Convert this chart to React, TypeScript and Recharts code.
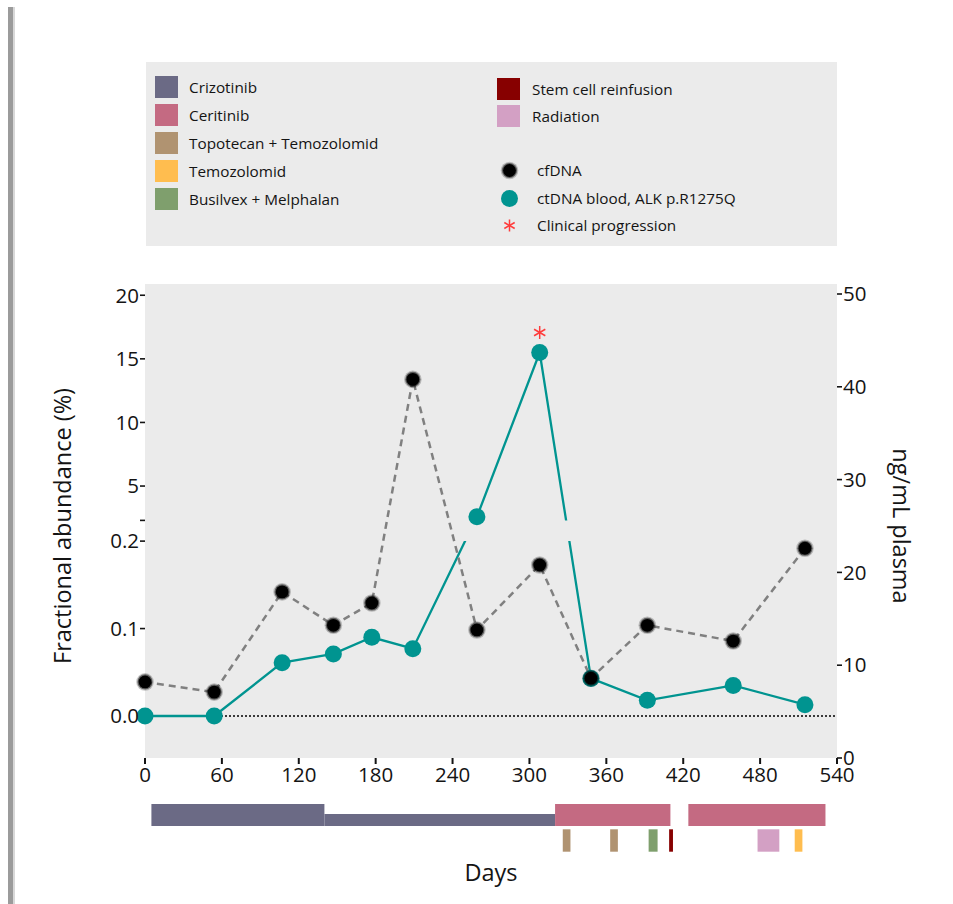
import React from "react";
import {
  CartesianGrid, ComposedChart, Label, Line, ReferenceArea, ReferenceDot, ReferenceLine, XAxis, YAxis,
} from "recharts";

const FONT = "'Open Sans', 'Noto Sans', sans-serif";
const INK = "#141414";
const PANEL = "#ebebeb";
const TEAL = "#009490";

// sampling days, shared by both series
const DAYS = [0, 54, 107, 147, 177, 209, 259, 308, 348, 392, 459, 515];
// total cell-free DNA, ng/mL plasma (right axis)
const CFDNA = [8.2, 7.1, 17.9, 14.3, 16.7, 40.8, 13.8, 20.8, 8.6, 14.3, 12.6, 22.6];
// ALK p.R1275Q fractional abundance in blood, % (left axis)
const CTDNA = [0, 0, 0.061, 0.071, 0.09, 0.077, 2.58, 15.5, 0.043, 0.018, 0.035, 0.013];
const PROGRESSION_DAYS = [308];

const DAY_TICKS = [0, 60, 120, 180, 240, 300, 360, 420, 480, 540];
const PCT_TICKS = [0, 0.1, 0.2, 5, 10, 15, 20];
const NG_TICKS = [0, 10, 20, 30, 40, 50];

const TREATMENTS = [
  "Crizotinib", "Ceritinib", "Topotecan + Temozolomid", "Temozolomid",
  "Busilvex + Melphalan", "Stem cell reinfusion", "Radiation",
];

type Track = "full" | "reduced" | "short";
// [treatment, from day, to day, track]
const PERIODS: [string, number, number, Track][] = [
  ["Crizotinib", 5, 140, "full"],
  ["Crizotinib", 140, 320, "reduced"],
  ["Ceritinib", 320, 410, "full"],
  ["Ceritinib", 424, 531, "full"],
  ["Topotecan + Temozolomid", 326, 332, "short"],
  ["Topotecan + Temozolomid", 363, 369, "short"],
  ["Busilvex + Melphalan", 393, 400, "short"],
  ["Stem cell reinfusion", 409, 412, "short"],
  ["Radiation", 478, 495, "short"],
  ["Temozolomid", 507, 513, "short"],
];

const TREATMENT_COLORS: Record<string, string> = {
  Crizotinib: "#6b6a85",
  Ceritinib: "#c46a82",
  "Topotecan + Temozolomid": "#b09371",
  Temozolomid: "#ffbd4f",
  "Busilvex + Melphalan": "#7f9f6d",
  "Stem cell reinfusion": "#870000",
  Radiation: "#d3a0c4",
};

// vertical extent of each track in the timeline strip (0 = top)
const TRACK_Y: Record<Track, [number, number]> = {
  full: [6, 28],
  reduced: [16, 28],
  short: [31.3, 53.7],
};

// Left axis is broken: 0–0.2 % below the gap, 2.3–20 % above it
const LOW_TOP = 0.2;
const HIGH_BOTTOM = 2.3;
const GAP = 0.0237;
const HIGH_SLOPE = 0.014545;
const toAxis = (v: number) => (v <= LOW_TOP ? v : LOW_TOP + GAP + (v - HIGH_BOTTOM) * HIGH_SLOPE);
const PCT_DOMAIN: [number, number] = [-0.048, 0.494];

const pctLabel = (u: number) => {
  const t = PCT_TICKS.find((p) => Math.abs(toAxis(p) - u) < 1e-9);
  if (t === undefined) return "";
  return t < 1 ? t.toFixed(1) : String(t);
};

const rows = DAYS.map((day, i) => ({ day, cf: CFDNA[i], ct: toAxis(CTDNA[i]) }));

const W = 953;
const H = 800;
const MARGIN = { top: 284, right: 16, bottom: 12, left: 45 };
// same plot box for the underlay chart, whose axes are hidden
const PLOT_MARGIN = { top: 284, right: 116, bottom: 42, left: 145 };

function Asterisk({ cx, cy, r = 6.5, color = "#ff3b3b" }: { cx: number; cy: number; r?: number; color?: string }) {
  const arms = [90, 30, -30].map((a) => {
    const rad = (a * Math.PI) / 180;
    const dx = r * Math.cos(rad);
    const dy = r * Math.sin(rad);
    return <line key={a} x1={cx - dx} y1={cy - dy} x2={cx + dx} y2={cy + dy} stroke={color} strokeWidth={1.5} />;
  });
  return <g>{arms}</g>;
}

function CfDot({ cx, cy }: { cx?: number; cy?: number }) {
  if (cx == null || cy == null) return null;
  return (
    <g>
      <circle cx={cx} cy={cy} r={8.8} fill="#000" opacity={0.22} />
      <circle cx={cx} cy={cy} r={7.6} fill="#000" opacity={0.5} />
      <circle cx={cx} cy={cy} r={6.4} fill="#000" />
    </g>
  );
}

function CtDot({ cx, cy }: { cx?: number; cy?: number }) {
  if (cx == null || cy == null) return null;
  return <circle cx={cx} cy={cy} r={8.5} fill={TEAL} />;
}

function AxisTitle({ viewBox, text, dx, angle }: { viewBox?: any; text: string; dx: number; angle: number }) {
  if (!viewBox) return null;
  const x = viewBox.x + dx;
  const y = viewBox.y + viewBox.height / 2 + 5;
  return (
    <text x={x} y={y} transform={`rotate(${angle} ${x} ${y})`} textAnchor="middle" dominantBaseline="central"
      fontFamily={FONT} fontSize={23.5} fill={INK}>
      {text}
    </text>
  );
}

const tickStyle = { fontSize: 20.5, fill: INK, fontFamily: FONT };

function Legend() {
  const swatch = (color: string) => (
    <div style={{ width: 23, height: 22, background: color, flex: "none" }} />
  );
  const row = (top: number, left: number, mark: React.ReactNode, text: string, gap: number) => (
    <div key={text} style={{ position: "absolute", top, left, height: 22, display: "flex", alignItems: "center" }}>
      {mark}
      <span style={{ marginLeft: gap, fontSize: 15.3, color: INK, whiteSpace: "nowrap" }}>{text}</span>
    </div>
  );
  return (
    <div style={{ position: "absolute", left: 146, top: 62, width: 691, height: 184, background: PANEL, fontFamily: FONT }}>
      {TREATMENTS.slice(0, 5).map((t, i) => row(14 + i * 28, 9, swatch(TREATMENT_COLORS[t]), t, 11))}
      {TREATMENTS.slice(5).map((t, i) => row(16 + i * 27, 351, swatch(TREATMENT_COLORS[t]), t, 12))}
      {row(97, 354, (
        <svg width={19} height={19}><CfDot cx={9.5} cy={9.5} /></svg>
      ), "cfDNA", 18)}
      {row(125, 354, (
        <svg width={19} height={19}><circle cx={9.5} cy={9.5} r={8.5} fill={TEAL} /></svg>
      ), "ctDNA blood, ALK p.R1275Q", 18)}
      {row(152, 354, (
        <svg width={19} height={19}><Asterisk cx={9.5} cy={9.5} r={6} /></svg>
      ), "Clinical progression", 18)}
    </div>
  );
}

export default function App() {
  return (
    <div style={{ position: "absolute", left: 0, top: 0, width: W, height: 904, background: "#fff", overflow: "hidden", fontFamily: FONT }}>
      <div style={{ position: "absolute", left: 8, top: 7, width: 5, height: 897, background: "#9b9b9b" }} />
      <div style={{ position: "absolute", left: 13, top: 7, width: 2, height: 897, background: "#d8d8d8" }} />

      <Legend />

      {/* underlay: panel, zero line and the ctDNA trace */}
      <div style={{ position: "absolute", left: 0, top: 0 }}>
        <ComposedChart width={W} height={H} data={rows} margin={PLOT_MARGIN}>
          <CartesianGrid horizontal={false} vertical={false} fill={PANEL} />
          <XAxis dataKey="day" type="number" domain={[0, 540]} hide />
          <YAxis yAxisId="left" type="number" domain={PCT_DOMAIN} allowDataOverflow hide />
          <ReferenceLine yAxisId="left" y={toAxis(0)} stroke="#000" strokeWidth={1.6} strokeDasharray="2 2" />
          <Line yAxisId="left" dataKey="ct" stroke={TEAL} strokeWidth={2.3} dot={false} activeDot={false}
            isAnimationActive={false} />
        </ComposedChart>
      </div>

      {/* overlay: axes, the axis break over the trace, markers and the cfDNA series */}
      <div style={{ position: "absolute", left: 0, top: 0 }}>
        <ComposedChart width={W} height={H} data={rows} margin={MARGIN}>
          <XAxis dataKey="day" type="number" domain={[0, 540]} ticks={DAY_TICKS} interval={0}
            axisLine={false} tickSize={6} tickMargin={3} height={30}
            tick={tickStyle} tickLine={{ stroke: INK, strokeWidth: 2 }} />
          <YAxis yAxisId="left" type="number" domain={PCT_DOMAIN} allowDataOverflow
            ticks={[...PCT_TICKS, HIGH_BOTTOM].map(toAxis)} interval={0} tickFormatter={pctLabel}
            width={100} axisLine={false} tickSize={5} tickMargin={1}
            tick={tickStyle} tickLine={{ stroke: INK, strokeWidth: 1.6 }}>
            <Label content={(p: any) => <AxisTitle viewBox={p.viewBox} text="Fractional abundance (%)" dx={17} angle={-90} />} />
          </YAxis>
          <YAxis yAxisId="right" orientation="right" type="number" domain={[0, 50]} ticks={NG_TICKS} interval={0}
            padding={{ top: 10, bottom: 0 }} width={100} axisLine={false} tickSize={5} tickMargin={1}
            tick={tickStyle} tickLine={{ stroke: INK, strokeWidth: 1.6 }}>
            <Label content={(p: any) => <AxisTitle viewBox={p.viewBox} text="ng/mL plasma" dx={65} angle={90} />} />
          </YAxis>

          <ReferenceArea yAxisId="left" y1={toAxis(LOW_TOP)} y2={toAxis(HIGH_BOTTOM)} fill={PANEL} fillOpacity={1}
            stroke="none" />
          <Line yAxisId="left" dataKey="ct" stroke="none" activeDot={false} isAnimationActive={false}
            dot={(p: any) => <CtDot key={`ct-${p.index}`} cx={p.cx} cy={p.cy} />} />
          <Line yAxisId="right" dataKey="cf" stroke="#808080" strokeWidth={2.5} strokeDasharray="7 5"
            activeDot={false} isAnimationActive={false}
            dot={(p: any) => <CfDot key={`cf-${p.index}`} cx={p.cx} cy={p.cy} />} />
          {PROGRESSION_DAYS.map((d) => (
            <ReferenceDot key={d} yAxisId="left" x={d} y={toAxis(CTDNA[DAYS.indexOf(d)])}
              shape={(p: any) => <Asterisk cx={p.cx} cy={p.cy - 20} />} />
          ))}
        </ComposedChart>
      </div>

      <div style={{ position: "absolute", left: 0, top: 798 }}>
        <ComposedChart width={W} height={60} data={rows} margin={{ top: 0, right: 116, bottom: 0, left: 145 }}>
          <XAxis dataKey="day" type="number" domain={[0, 540]} hide allowDataOverflow />
          <YAxis type="number" domain={[0, 60]} reversed hide allowDataOverflow />
          {PERIODS.map(([name, from, to, track], i) => (
            <ReferenceArea key={i} x1={from} x2={to} y1={TRACK_Y[track][0]} y2={TRACK_Y[track][1]}
              fill={TREATMENT_COLORS[name]} fillOpacity={1} stroke="none" />
          ))}
        </ComposedChart>
      </div>

      <div style={{ position: "absolute", left: 145, width: 692, top: 856, textAlign: "center", fontSize: 23.5, color: INK }}>
        Days
      </div>
    </div>
  );
}
